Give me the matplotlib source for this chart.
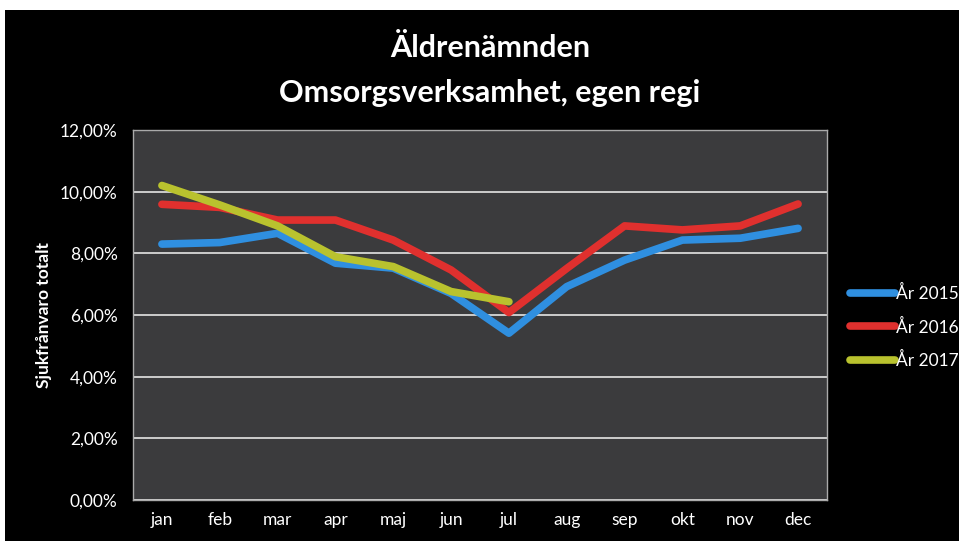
import matplotlib.pyplot as plt
from matplotlib.patches import Rectangle
from matplotlib.ticker import FuncFormatter

months = ['jan', 'feb', 'mar', 'apr', 'maj', 'jun', 'jul', 'aug', 'sep', 'okt', 'nov', 'dec']
y2015 = [8.30, 8.35, 8.65, 7.68, 7.52, 6.70, 5.41, 6.92, 7.78, 8.43, 8.49, 8.81]
y2016 = [9.59, 9.49, 9.08, 9.08, 8.43, 7.46, 6.08, 7.51, 8.89, 8.76, 8.89, 9.60]
y2017 = [10.20, 9.57, 8.89, 7.89, 7.57, 6.76, 6.43]
series = [('År 2015', y2015, '#2f8fe0'),
          ('År 2016', y2016, '#e0302e'),
          ('År 2017', y2017, '#b9c22e')]

plt.rcParams['font.family'] = ['Lato', 'DejaVu Sans']

W, H = 959, 541
fig = plt.figure(figsize=(W / 100, H / 100), dpi=100, facecolor='white')
# black chart frame
fig.patches.append(Rectangle((5 / W, 0), 1 - 5 / W, (H - 10) / H,
                             transform=fig.transFigure, facecolor='black',
                             edgecolor='none', zorder=-1))

ax = fig.add_axes([133 / W, 1 - 500 / H, (827 - 133) / W, (500 - 130) / H])
ax.set_facecolor('#3b3b3d')
for s in ax.spines.values():
    s.set_color('#aaaaaa')
    s.set_linewidth(1)

x = range(len(months))
for label, vals, col in series:
    ax.plot(x[:len(vals)], vals, color=col, lw=5.5, solid_capstyle='round',
            solid_joinstyle='round', label=label)

ax.set_xlim(-0.5, 11.5)
ax.set_ylim(0, 12)
ax.set_yticks(range(0, 13, 2))
ax.yaxis.set_major_formatter(FuncFormatter(lambda v, p: f'{v:.2f}'.replace('.', ',') + '%'))
ax.set_xticks(list(x))
ax.set_xticklabels(months)
ax.grid(axis='y', color='#d8d8d8', lw=1.3)
ax.set_axisbelow(True)
ax.tick_params(colors='white', labelsize=12.5, length=0)
ax.tick_params(axis='x', pad=8.5)
ax.tick_params(axis='y', pad=11)

ax.set_ylabel('Sjukfrånvaro totalt', color='white', fontsize=12.5, fontweight='bold', labelpad=6)

fig.text(490 / W, 1 - 48 / H, 'Äldrenämnden', color='white', fontsize=22,
         fontweight='bold', ha='center', va='center')
fig.text(490 / W, 1 - 93 / H, 'Omsorgsverksamhet, egen regi', color='white', fontsize=22,
         fontweight='bold', ha='center', va='center')

leg = fig.legend(loc='center left', bbox_to_anchor=(850 / W, 1 - 327 / H), frameon=False,
                 labelcolor='white', fontsize=12.5, handlelength=2.6, handletextpad=0.05,
                 labelspacing=0.95, borderaxespad=0, borderpad=0)

fig.savefig('out.png', dpi=100, facecolor=fig.get_facecolor())
